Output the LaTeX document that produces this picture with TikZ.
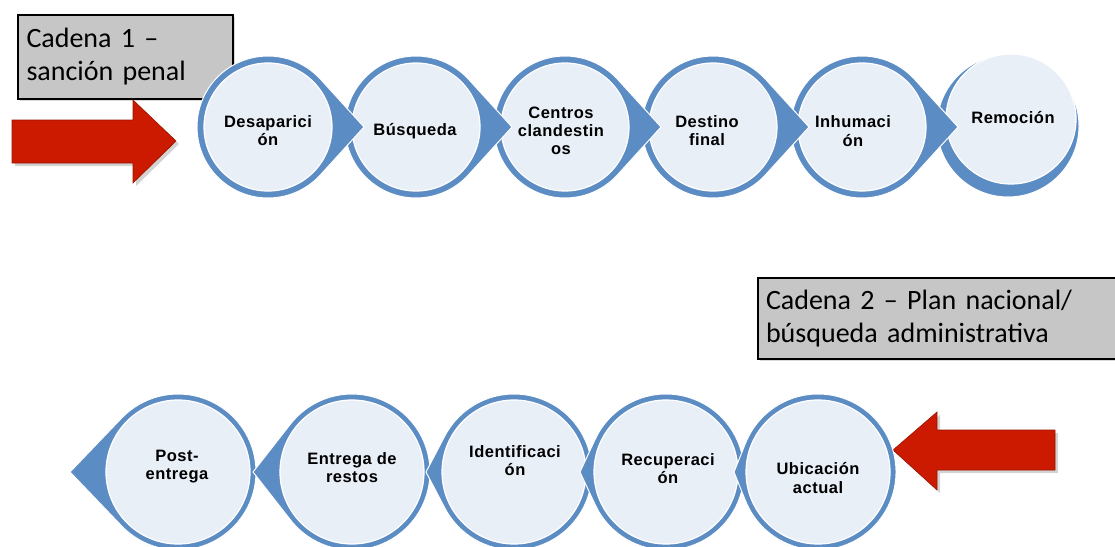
\documentclass[tikz,border=0pt]{standalone}
\usepackage{fontspec}
\setmainfont{Liberation Sans}
\newfontfamily\boxfont[WordSpace=0.75]{Carlito}
\newfontfamily\stepfont[LetterSpace=3]{Liberation Sans}
\usetikzlibrary{calc,shadows}

\definecolor{ringblue}{RGB}{92,140,196}
\definecolor{paleblue}{RGB}{233,239,247}
\definecolor{arrowred}{RGB}{204,26,0}
\definecolor{boxgray}{RGB}{198,198,198}

\tikzset{
  ring/.style={fill=ringblue,draw=white,line width=1pt},
  face/.style={fill=paleblue,draw=white,line width=1.2pt},
  stepbold/.style={font=\stepfont\bfseries\fontsize{16.5}{18}\selectfont,align=center,inner sep=0pt},
  steplight/.style={font=\stepfont\bfseries\fontsize{16.5}{19}\selectfont,align=center,inner sep=0pt},
  chainbox/.style={draw=black,line width=2pt,fill=boxgray,align=left,anchor=north west,
    font=\boxfont\fontsize{28}{33}\selectfont,
    drop shadow={shadow xshift=2pt,shadow yshift=-2pt,opacity=0.3}},
  bigarrow/.style={fill=arrowred,draw=arrowred!75!black,line width=0.6pt,
    drop shadow={shadow xshift=3pt,shadow yshift=-3pt,opacity=0.35}}
}

\begin{document}
\begin{tikzpicture}[x=1pt,y=-1pt]
\useasboundingbox (0,0) rectangle (1115,546);

% === Chain 1: label and entry arrow ===
\node[chainbox,minimum width=215pt,minimum height=84pt,text width=198pt,inner xsep=8pt] (cad1) at (17,14) {Cadena 1 –\\sanción penal};
\path[bigarrow] (12,120) -- (133,120) -- (133,100) -- (176,141) -- (133,183) -- (133,163) -- (12,163) -- cycle;

% === Chain 1: steps, right to left so each tip lies on its neighbour ===
\pgfmathsetmacro{\R}{71}
\pgfmathsetmacro{\Rin}{64}

% last step has no tip
\path[ring] (1008,126) circle (\R);
\path[face] (1011,119) circle (65);
\node[steplight] (remo) at (1013,118) {Remoción};

\foreach \cx/\tx/\sty/\nm/\txt in {862/853/steplight/inhu/{Inhumaci\\ón},
    713/707/stepbold/dest/{Destino\\final},
    565/561/stepbold/cent/{Centros\\clandestin\\os},
    416/415/steplight/busq/{Búsqueda},
    268/268/stepbold/desa/{Desaparici\\ón}} {
  \pgfmathsetmacro{\a}{acos(\R/96)}
  \path[ring] (\cx+96,127) -- ($(\cx,127)+(\a:\R)$) arc[start angle=\a,end angle=360-\a,radius=\R] -- cycle;
  \path[face] (\cx,127) circle (\Rin);
  \node[\sty] (\nm) at (\tx,131) {\txt};
}

% === Chain 2: label and entry arrow ===
\node[chainbox,minimum width=358pt,minimum height=81pt,text width=342pt,inner xsep=8pt] (cad2) at (757,277) {Cadena 2 – Plan nacional/\\búsqueda administrativa};
\path[bigarrow] (1055,430) -- (937,430) -- (937,412) -- (893,450) -- (937,490) -- (937,470) -- (1055,470) -- cycle;

% === Chain 2: steps, pointing left ===
\foreach \cx/\tip/\tx/\ty/\sty/\nm/\txt in {178/108/177/467/stepbold/post/{Post-\\entrega},
    352/99/352/468/stepbold/entr/{Entrega de\\restos},
    514/88/515/461/stepbold/iden/{Identificaci\\ón},
    666/86/668/469/stepbold/recu/{Recuperaci\\ón},
    818/84/818/478/steplight/ubic/{Ubicación\\actual}} {
  \pgfmathsetmacro{\a}{acos(78/\tip)}
  \path[ring] (\cx-\tip,472) -- ($(\cx,472)+(180-\a:78)$) arc[start angle=180-\a,end angle=\a-180,radius=78] -- cycle;
  \path[face] (\cx,472) circle (72);
  \node[\sty] (\nm) at (\tx,\ty) {\txt};
}

\end{tikzpicture}
\end{document}
